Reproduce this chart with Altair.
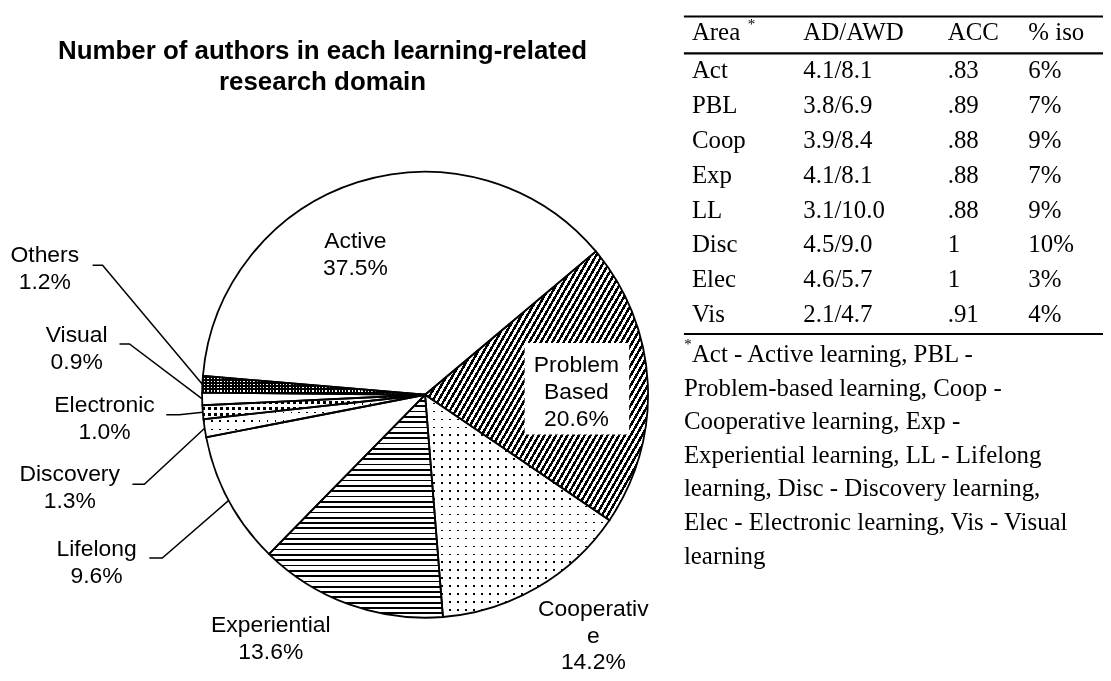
import math
import altair as alt
import pandas as pd

# ---------------- data ----------------
categories = ["Problem Based", "Cooperative", "Experiential", "Lifelong",
              "Discovery", "Electronic", "Visual", "Others", "Active"]
shares = [20.6, 14.2, 13.6, 9.6, 1.3, 1.0, 0.9, 1.2, 37.5]
label_names = [["Problem", "Based"], ["Cooperativ", "e"], ["Experiential"], ["Lifelong"],
               ["Discovery"], ["Electronic"], ["Visual"], ["Others"], ["Active"]]

title_lines = ["Number of authors in each learning-related", "research domain"]

table_header = ["Area", "AD/AWD", "ACC", "% iso"]
table_area = ["Act", "PBL", "Coop", "Exp", "LL", "Disc", "Elec", "Vis"]
table_ad_awd = ["4.1/8.1", "3.8/6.9", "3.9/8.4", "4.1/8.1", "3.1/10.0", "4.5/9.0", "4.6/5.7", "2.1/4.7"]
table_acc = [".83", ".89", ".88", ".88", ".88", "1", "1", ".91"]
table_iso = ["6%", "7%", "9%", "7%", "9%", "10%", "3%", "4%"]
footnote_lines = ["Act - Active learning, PBL -",
                  "Problem-based learning, Coop -",
                  "Cooperative learning, Exp -",
                  "Experiential learning, LL - Lifelong",
                  "learning, Disc - Discovery learning,",
                  "Elec - Electronic learning, Vis - Visual",
                  "learning"]

# ---------------- layout ----------------
W, H, OFF = 1100, 665, 8
CX, CY, R = 427, 395, 224
START = math.radians(50)
SANS = "Liberation Sans"
SERIF = "Liberation Serif"
LABEL_SIZE = 23
LINE = 27

label_pos = {"Active": (357, 248), "Problem Based": (579, 372), "Cooperative": (596, 617),
             "Experiential": (272, 633), "Lifelong": (97, 557), "Discovery": (70, 482),
             "Electronic": (105, 412), "Visual": (77, 342), "Others": (45, 262)}
leader_pos = {"Others": (93, 103, 265), "Visual": (120, 130, 344), "Electronic": (167, 180, 415),
              "Discovery": (133, 145, 485), "Lifelong": (150, 163, 559)}
pb_box = (527, 632, 343, 435)

col_x = [695, 807, 952, 1033]
header_base = 39
row_base0, row_step = 77, 35
rule_ys = [15, 52, 334]
rule_x0, rule_x1 = 687, W + OFF
foot_base0, foot_step = 362, 33.8

# ---------------- derived tables ----------------
total = sum(shares)
starts, ends, run = [], [], 0.0
for s in shares:
    starts.append(run)
    run += s
    ends.append(run)
pie = pd.DataFrame({"cat": categories, "start": starts, "end": ends})


def ang(v):
    return START + 2 * math.pi * v / total


def slice_bbox(cat):
    i = categories.index(cat)
    a0, a1 = ang(starts[i]), ang(ends[i])
    pts = [(CX, CY)]
    steps = 200
    for k in range(steps + 1):
        t = a0 + (a1 - a0) * k / steps
        pts.append((CX + R * math.sin(t), CY - R * math.cos(t)))
    xs = [p[0] for p in pts]
    ys = [p[1] for p in pts]
    return max(xs) - min(xs), max(ys) - min(ys)


def stripe_fill(cat, period, frac, x2, y2, ink="black", paper="white"):
    w, h = slice_bbox(cat)
    g = math.hypot(x2 / w, y2 / h) / (x2 * x2 + y2 * y2)
    n = max(1, round((1 / g) / period))
    stops = []
    for i in range(n):
        a, b, c = round(i / n, 5), round((i + frac) / n, 5), round((i + 1) / n, 5)
        stops += [alt.GradientStop(offset=a, color=ink), alt.GradientStop(offset=b, color=ink),
                  alt.GradientStop(offset=b, color=paper), alt.GradientStop(offset=c, color=paper)]
    return alt.LinearGradient(gradient="linear", stops=stops, x1=0, y1=0, x2=x2, y2=y2)


theta_scale = alt.Scale(domain=[0, total], range=[START, START + 2 * math.pi])


def arc(cat=None, **kw):
    ch = alt.Chart(pie)
    if cat is not None:
        ch = ch.transform_filter(alt.datum.cat == cat)
    return ch.mark_arc(outerRadius=R, **kw).encode(
        theta=alt.Theta("start:Q", scale=theta_scale, stack=None),
        theta2="end:Q",
        x=alt.value(CX - OFF), y=alt.value(CY - OFF))


XS = alt.Scale(domain=[OFF, W + OFF], nice=False, zero=False)
YS = alt.Scale(domain=[OFF, H + OFF], nice=False, zero=False, reverse=True)


def X(f):
    return alt.X(f, type="quantitative", scale=XS, axis=None)


def Y(f):
    return alt.Y(f, type="quantitative", scale=YS, axis=None)


layers = []
# base white pie
layers.append(arc(fill="white", strokeWidth=0))
# hatched Problem Based
layers.append(arc("Problem Based", fill=stripe_fill("Problem Based", 5.0, 0.5, 1.2, 0.83), strokeWidth=0))
# wavy Experiential approximated by horizontal lines
layers.append(arc("Experiential", fill=stripe_fill("Experiential", 5.3, 0.32, 0, 1), strokeWidth=0))
# dotted slices
for cat, per, fr in [("Cooperative", 8.0, 0.2), ("Discovery", 8.0, 0.2), ("Electronic", 6.0, 0.5)]:
    layers.append(arc(cat, fill=stripe_fill(cat, per, fr, 1, 0), strokeWidth=0))
    layers.append(arc(cat, fill=stripe_fill(cat, per, fr, 0, 1), strokeWidth=0, blend="screen"))
# dense grid Others
layers.append(arc("Others", fill=stripe_fill("Others", 3.3, 0.6, 1, 0), strokeWidth=0))
layers.append(arc("Others", fill=stripe_fill("Others", 3.3, 0.6, 0, 1), strokeWidth=0, blend="multiply"))

# white box behind Problem Based label
box = pd.DataFrame({"x": [pb_box[0]], "x2": [pb_box[1]], "y": [pb_box[2]], "y2": [pb_box[3]]})
layers.append(alt.Chart(box).mark_rect(fill="white").encode(x=X("x"), x2="x2", y=Y("y"), y2="y2"))

# outlines
layers.append(arc(fillOpacity=0, stroke="black", strokeWidth=1.8))

# leader lines
lead_rows = []
for cat, (x0, x1, ly) in leader_pos.items():
    i = categories.index(cat)
    mid = ang((starts[i] + ends[i]) / 2)
    ex, ey = CX + R * math.sin(mid), CY - R * math.cos(mid)
    lead_rows += [{"cat": cat, "k": 0, "x": x0, "y": ly},
                  {"cat": cat, "k": 1, "x": x1, "y": ly},
                  {"cat": cat, "k": 2, "x": ex, "y": ey}]
leads = pd.DataFrame(lead_rows)
layers.append(alt.Chart(leads).mark_line(color="black", strokeWidth=1.5).encode(
    x=X("x"), y=Y("y"), detail="cat:N", order="k:Q"))

# pie labels
lab_rows = []
for cat, names, s in zip(categories, label_names, shares):
    lx, ly = label_pos[cat]
    for j, t in enumerate(names + [f"{s:.1f}%"]):
        lab_rows.append({"x": lx, "y": ly + j * LINE, "t": t})
labs = pd.DataFrame(lab_rows)
layers.append(alt.Chart(labs).mark_text(font=SANS, fontSize=LABEL_SIZE, align="center",
                                        baseline="alphabetic", color="black").encode(
    x=X("x"), y=Y("y"), text="t:N"))

# title
ttl = pd.DataFrame({"x": [324, 324], "y": [58, 89], "t": title_lines})
layers.append(alt.Chart(ttl).mark_text(font=SANS, fontSize=26, fontWeight="bold", align="center",
                                       baseline="alphabetic", color="black").encode(
    x=X("x"), y=Y("y"), text="t:N"))

# table text
tab_rows = []
for c, h in enumerate(table_header):
    tab_rows.append({"x": col_x[c], "y": header_base, "t": h})
for r, row in enumerate(zip(table_area, table_ad_awd, table_acc, table_iso)):
    for c, v in enumerate(row):
        tab_rows.append({"x": col_x[c], "y": row_base0 + r * row_step, "t": v})
for k, line in enumerate(footnote_lines):
    tab_rows.append({"x": 695 if k == 0 else 687, "y": foot_base0 + k * foot_step, "t": line})
tab = pd.DataFrame(tab_rows)
layers.append(alt.Chart(tab).mark_text(font=SERIF, fontSize=25, align="left",
                                       baseline="alphabetic", color="black").encode(
    x=X("x"), y=Y("y"), text="t:N"))

# asterisks
ast = pd.DataFrame({"x": [755, 691], "y": [16, 337], "t": ["*", "*"]})
layers.append(alt.Chart(ast).mark_text(font=SERIF, fontSize=15, align="center",
                                       baseline="top", color="black").encode(
    x=X("x"), y=Y("y"), text="t:N"))

# table rules
rules = pd.DataFrame({"y": rule_ys, "x": [rule_x0] * 3, "x2": [rule_x1] * 3})
layers.append(alt.Chart(rules).mark_rule(color="black", strokeWidth=2.2).encode(
    x=X("x"), x2="x2", y=Y("y")))

chart = alt.layer(*layers).properties(
    width=W, height=H, padding=0, autosize=alt.AutoSizeParams(type="none")
).configure_view(stroke=None)

chart.save("out.html", embed_options={"renderer": "svg", "actions": False})
